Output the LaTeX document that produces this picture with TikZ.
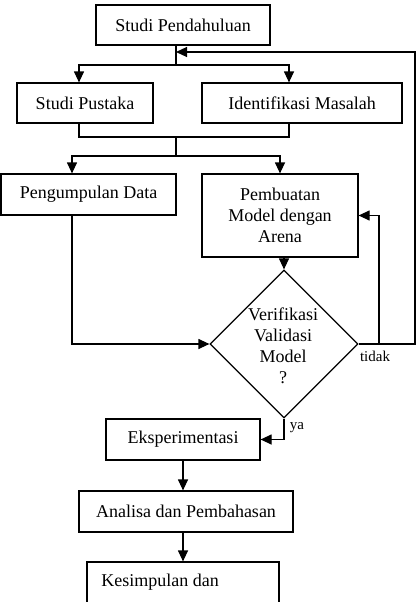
\documentclass[tikz,border=0pt]{standalone}
\usepackage{fontspec}
\setmainfont{Liberation Serif}
\usetikzlibrary{arrows.meta,shapes.geometric}
\begin{document}
\begin{tikzpicture}[x=1pt,y=-1pt,
  every node/.style={font=\fontsize{18}{21}\selectfont},
  box/.style={draw,line width=1.2pt,inner sep=0pt},
  ln/.style={line width=1.2pt},
  arr/.style={line width=1.2pt,-{Triangle[length=11pt,width=10pt]}},
  lbl/.style={font=\fontsize{15}{17}\selectfont,inner sep=0pt,anchor=base}]
\useasboundingbox (0,0) rectangle (418,602);
% boxes
\node[box,minimum width=174,minimum height=40] (sp) at (183,25) {Studi Pendahuluan\hspace{9pt}};
\node[box,minimum width=136,minimum height=40] (spu) at (85,103) {Studi Pustaka\hspace{8pt}};
\node[box,minimum width=200,minimum height=40] (im) at (302,103) {Identifikasi Masalah\hspace{22pt}};
\node[box,minimum width=175,minimum height=41] (pd) at (88.5,194.5) {Pengumpulan Data};
\node[box,minimum width=156,minimum height=83,align=center] (pm) at (280,215.5) {Pembuatan\\Model dengan\\Arena};
\node[draw,diamond,line width=1.2pt,minimum width=148,minimum height=148,inner sep=0pt] (dia) at (284,344) {};
\node[align=center,inner sep=0pt] (diat) at (283,346) {Verifikasi\\Validasi\\Model\\?};
\node[box,minimum width=154,minimum height=41] (ek) at (183,439.5) {Eksperimentasi\hspace{12pt}};
\node[box,minimum width=214,minimum height=41] (an) at (186,511.5) {Analisa dan Pembahasan};
\node[box,minimum width=192,minimum height=90] (kes) at (183,607) {};
\node[inner sep=0pt] (kest) at (160,582) {Kesimpulan dan};
% labels
\node[lbl] (tidak) at (375,361) {tidak};
\node[lbl] (ya) at (297,429) {ya};
% coordinates
\coordinate (j1) at (176,65);
\coordinate (jfb) at (176,52);
\coordinate (j2) at (176,137);
\coordinate (j3) at (176,156);
\coordinate (c1) at (415,52);
\coordinate (c2) at (379,344);
% connectors
\draw[ln] (sp.south -| j1) -- (j1);
\draw[arr] (j1) -| ([xshift=-6]spu.north);
\draw[arr] (j1) -| ([xshift=-13]im.north);
\draw[ln] ([xshift=-6]spu.south) |- (j2) -| ([xshift=-13]im.south);
\draw[ln] (j2) -- (j3);
\draw[arr] (j3) -| ([xshift=-16.5]pd.north);
\draw[arr] (j3) -| (pm.north);
\draw[arr] (pm.south -| dia.north) -- (dia.north);
\draw[arr] ([xshift=-16.5]pd.south) |- (dia.west);
\draw[arr] (dia.east) -| (c1) -- (jfb);
\draw[arr] (c2) |- (pm.east);
\draw[arr] (dia.south) |- (ek.east);
\draw[arr] (ek.south) -- (ek.south |- an.north);
\draw[arr] (ek.south |- an.south) -- (ek.south |- kes.north);
\end{tikzpicture}
\end{document}
